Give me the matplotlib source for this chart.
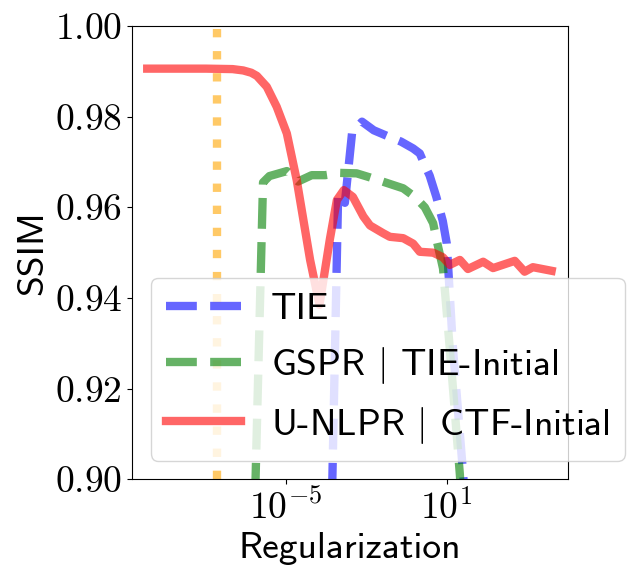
import numpy as np
import matplotlib
matplotlib.use('Agg')
import matplotlib.pyplot as plt
from matplotlib.ticker import NullLocator

plt.rcParams['font.family'] = 'cmss10'
plt.rcParams['mathtext.fontset'] = 'cm'
plt.rcParams['axes.formatter.use_mathtext'] = True

# значения (x - показатель степени 10)
tie_logx = [-3.43, -3.05, -2.80, -2.53, -2.16, -1.72, -1.20, -0.70, -0.25, 0.00,
            0.19, 0.37, 0.62, 0.86, 1.01, 1.24, 1.61, 1.76]
tie_ssim = [0.853, 0.9634, 0.9610, 0.9765, 0.9789, 0.9770, 0.9757, 0.9745, 0.9730, 0.9719,
            0.9693, 0.9670, 0.9623, 0.9570, 0.9520, 0.9290, 0.9020, 0.8900]

gspr_logx = [-6.34, -5.86, -5.62, -4.97, -4.55, -4.04, -3.54, -2.98, -2.36, -1.86,
             -0.62, -0.18, 0.19, 0.50, 0.64, 0.87, 1.12, 1.50, 1.61]
gspr_ssim = [0.853, 0.9655, 0.9669, 0.9680, 0.9657, 0.9671, 0.9671, 0.9676, 0.9675, 0.9666,
             0.9642, 0.9623, 0.9600, 0.9565, 0.9525, 0.9465, 0.9290, 0.9010, 0.8900]

unlpr_logx = [-10.19, -9.0, -8.0, -7.0, -6.6, -6.3, -6.09, -5.72, -5.35, -4.97,
              -4.60, -4.35, -4.10, -3.75, -3.36, -3.10, -2.84, -2.50, -2.11, -1.86,
              -1.37, -1.12, -0.62, -0.25, 0.00, 0.50, 0.86, 1.12, 1.50, 1.80,
              2.37, 2.74, 3.55, 3.92, 4.23, 4.93]
unlpr_ssim = [0.9906, 0.9906, 0.9906, 0.9905, 0.9902, 0.9897, 0.9890, 0.9866, 0.9822, 0.9763,
              0.9660, 0.9572, 0.9484, 0.9385, 0.9530, 0.9616, 0.9638, 0.9623, 0.9580, 0.9560,
              0.9543, 0.9535, 0.9532, 0.9520, 0.9502, 0.9500, 0.9490, 0.9473, 0.9484, 0.9464,
              0.9480, 0.9466, 0.9482, 0.9458, 0.9468, 0.9460]

chosen_reg = 10 ** -7.59

labels = ['TIE', 'GSPR $|$ TIE-Initial', 'U-NLPR $|$ CTF-Initial']
xt = [1e-5, 1e1]
xt_labels = ['$10^{-5}$', '$10^{1}$']
yt = [0.90, 0.92, 0.94, 0.96, 0.98, 1.00]

fig = plt.figure(figsize=(6.36, 5.81), dpi=100)
ax = fig.add_axes([0.2075, 0.175, 0.6855, 0.7802])

ax.plot(10 ** np.array(tie_logx), tie_ssim, '--', color='blue', lw=6, alpha=0.6, label=labels[0])
ax.plot(10 ** np.array(gspr_logx), gspr_ssim, '--', color='green', lw=6, alpha=0.6, label=labels[1])
ax.plot(10 ** np.array(unlpr_logx), unlpr_ssim, '-', color='red', lw=6, alpha=0.6, label=labels[2])
ax.axvline(chosen_reg, color='orange', linestyle=':', lw=6, alpha=0.6)

ax.set_xscale('log')
ax.set_xlim(10 ** -10.76, 10 ** 5.54)
ax.set_ylim(0.90, 1.00)
ax.set_xticks(xt)
ax.set_xticklabels(xt_labels)
ax.xaxis.set_minor_locator(NullLocator())
ax.set_yticks(yt)
ax.set_yticklabels(['$%.2f$' % v for v in yt])
ax.tick_params(labelsize=27)

ax.set_xlabel('Regularization', fontsize=27)
ax.set_ylabel('SSIM', fontsize=27)
ax.legend(loc='lower left', fontsize=27)

fig.savefig('out.png', dpi=100)
